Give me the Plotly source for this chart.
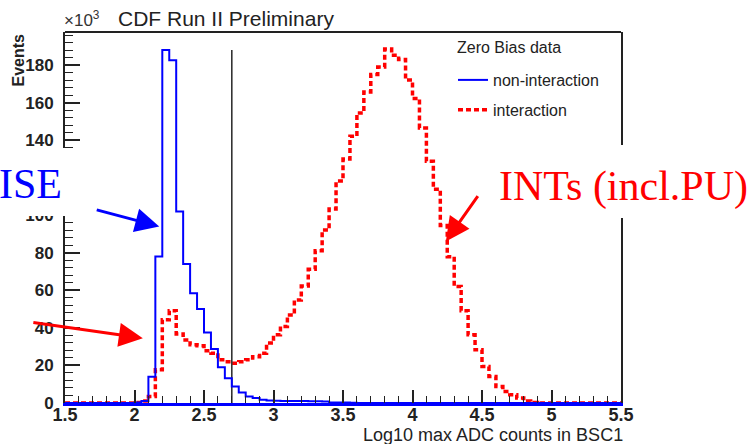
import numpy as np
import plotly.graph_objects as go

# ---------------- data (values in units of 10^3 events) ----------------
bin_start = 1.5
bin_width = 0.05

non_interaction = [
    0, 0, 0, 0, 0, 0, 0, 0, 0, 0,            # 1.50 - 2.00
    0.2, 1.0, 14.0, 78.0, 188.0, 182.6, 102.0, 74.0, 58.4, 50.0,   # 2.00 - 2.50
    37.5, 28.7, 19.0, 13.2, 8.8, 5.6, 3.5, 2.6, 1.7, 1.3,          # 2.50 - 3.00
    1.2, 1.1, 1.1, 1.0, 1.0, 0.9, 0.9, 0.8, 0.3, 0.2,             # 3.00 - 3.50
    0.2, 0.1, 0, 0, 0, 0, 0, 0, 0, 0,        # 3.50 - 4.00
    0, 0, 0, 0, 0, 0, 0, 0, 0, 0,            # 4.00 - 4.50
    0, 0, 0, 0, 0, 0, 0, 0, 0, 0,            # 4.50 - 5.00
    0, 0, 0, 0, 0, 0, 0, 0, 0, 0,            # 5.00 - 5.50
]

interaction = [
    0, 0, 0, 0, 0, 0, 0, 0, 0, 0,            # 1.50 - 2.00
    0.3, 1.0, 3.5, 17.7, 44.3, 49.2, 36.8, 33.6, 31.0, 30.5,       # 2.00 - 2.50
    27.8, 26.5, 23.0, 22.0, 21.2, 22.0, 23.0, 24.7, 26.5, 31.9,    # 2.50 - 3.00
    36.3, 40.7, 46.9, 54.9, 62.3, 71.2, 81.1, 92.1, 103.3, 118.2,  # 3.00 - 3.50
    129.9, 142.1, 154.5, 165.7, 175.0, 179.0, 188.5, 185.2, 183.0, 172.0,  # 3.50 - 4.00
    162.2, 146.5, 128.7, 113.9, 94.5, 77.9, 62.0, 49.2, 36.3, 28.3,  # 4.00 - 4.50
    19.4, 14.1, 8.8, 6.1, 4.4, 2.6, 1.0, 0.3, 0, 0,               # 4.50 - 5.00
    0, 0, 0, 0, 0, 0, 0, 0, 0, 0,            # 5.00 - 5.50
]

cut_value = 2.7
cut_height = 188.0

x_tick_vals = [1.5, 2, 2.5, 3, 3.5, 4, 4.5, 5, 5.5]
x_tick_text = ["1.5", "2", "2.5", "3", "3.5", "4", "4.5", "5", "5.5"]
y_tick_vals = [0, 20, 40, 60, 80, 100, 120, 140, 160, 180]
y_tick_text = ["0", "20", "40", "60", "80", "100", "120", "140", "160", "180"]

# ---------------- build ----------------
edges = bin_start + bin_width * np.arange(len(interaction) + 1)


def steps(vals):
    return list(edges), list(vals) + [vals[-1]]


TICKFONT = "Liberation Sans Narrow, Arial Narrow, Liberation Sans, Arial, sans-serif"
SANS = "Liberation Sans, Arial, Helvetica, sans-serif"
SERIF = "Liberation Serif, Times New Roman, serif"
FRAME = "#222222"

fig = go.Figure()

rx, ry = steps(interaction)
fig.add_trace(go.Scatter(
    x=rx, y=ry, mode="lines", line_shape="hv",
    line=dict(color="#ff0000", width=3.5, dash="5px,3px"),
    name="interaction", legendgroup="b", legendrank=2,
))

fig.add_trace(go.Scatter(
    x=[cut_value, cut_value], y=[0, cut_height], mode="lines",
    line=dict(color="#333333", width=1.6), showlegend=False,
    hoverinfo="skip",
))

bx, by = steps(non_interaction)
fig.add_trace(go.Scatter(
    x=bx, y=by, mode="lines", line_shape="hv",
    line=dict(color="#0000ff", width=2),
    name="non-interaction", legendgroup="a", legendrank=1,
))

fig.update_layout(
    width=751, height=444,
    margin=dict(l=65, r=130, t=32, b=41),
    paper_bgcolor="white", plot_bgcolor="white",
    font=dict(family=SANS, color=FRAME),
    title=dict(text="CDF Run II Preliminary", x=118 / 751, xanchor="left",
               y=1 - 19 / 444, yanchor="middle",
               font=dict(family=SANS, size=21, color="#222222")),
    xaxis=dict(
        range=[1.5, 5.5], tickvals=x_tick_vals, ticktext=x_tick_text,
        ticks="inside", ticklen=13, tickwidth=1.5, tickcolor=FRAME,
        minor=dict(dtick=0.1, ticks="inside", ticklen=7, tickwidth=1.2,
                   tickcolor=FRAME, showgrid=False),
        showline=True, linecolor="#0000ff", linewidth=2.5, mirror=False,
        showgrid=False, zeroline=False, ticklabelstandoff=-6,
        tickfont=dict(family=TICKFONT, size=18, weight="bold", color=FRAME),
    ),
    yaxis=dict(
        range=[0, 197.6], tickvals=y_tick_vals, ticktext=y_tick_text,
        ticks="inside", ticklen=15, tickwidth=1.5, tickcolor=FRAME,
        minor=dict(dtick=4, ticks="inside", ticklen=8, tickwidth=1.2,
                   tickcolor=FRAME, showgrid=False),
        showline=True, linecolor=FRAME, linewidth=2, mirror=True,
        showgrid=False, zeroline=False, ticklabelstandoff=6,
        tickfont=dict(family=TICKFONT, size=17, weight="bold", color=FRAME),
    ),
    legend=dict(
        x=(453 - 65) / 556, y=(403 - 63) / 371, xanchor="left", yanchor="top",
        bgcolor="rgba(0,0,0,0)", borderwidth=0,
        traceorder="grouped", tracegroupgap=6,
        font=dict(family=SANS, size=16, color=FRAME),
    ),
    showlegend=True,
)

# top frame line
fig.add_shape(type="line", xref="paper", yref="paper", layer="above",
              x0=0, x1=1, y0=1, y1=1, line=dict(color=FRAME, width=2))

# white boxes of the slide text overlays (covering parts of the frame)
fig.add_shape(type="rect", xref="paper", yref="paper", layer="above",
              x0=-65 / 556, x1=(88 - 65) / 556,
              y0=(403 - 216) / 371, y1=(403 - 148) / 371,
              fillcolor="white", line=dict(width=0))
fig.add_shape(type="rect", xref="paper", yref="paper", layer="above",
              x0=(492 - 65) / 556, x1=686 / 556,
              y0=(403 - 218) / 371, y1=(403 - 145) / 371,
              fillcolor="white", line=dict(width=0))

# legend header
fig.add_annotation(text="Zero Bias data", xref="paper", yref="paper",
                   x=(455 - 65) / 556, y=(403 - 48) / 371, xanchor="left", yanchor="middle",
                   showarrow=False, font=dict(family=SANS, size=16, color=FRAME))

# axis titles and exponent
fig.add_annotation(text="Log10 max ADC counts in BSC1", xref="paper", yref="paper",
                   x=(625 - 65) / 556, y=(403 - 435) / 371, xanchor="right", yanchor="middle",
                   showarrow=False, font=dict(family=SANS, size=18, color=FRAME))
fig.add_annotation(text="<b>Events</b>", xref="paper", yref="paper",
                   x=(18 - 65) / 556, y=(403 - 32) / 371, xanchor="center", yanchor="top",
                   textangle=-90, showarrow=False,
                   font=dict(family=SANS, size=16, color=FRAME))
fig.add_annotation(text="×10<sup>3</sup>", xref="paper", yref="paper",
                   x=(62 - 65) / 556, y=(403 - 19) / 371, xanchor="left", yanchor="middle",
                   showarrow=False, font=dict(family=SANS, size=17, color="#333333"))

# slide annotations
fig.add_annotation(text="ISE", xref="paper", yref="paper",
                   x=(-3 - 65) / 556, y=(403 - 184) / 371, xanchor="left", yanchor="middle",
                   showarrow=False, font=dict(family=SERIF, size=42, color="#0000ff"))
fig.add_annotation(text="INTs (incl.PU)", xref="paper", yref="paper",
                   x=(497 - 65) / 556, y=(403 - 186) / 371, xanchor="left", yanchor="middle",
                   showarrow=False, font=dict(family=SERIF, size=42, color="#ff0000"))

# arrows (tip in data coordinates, tail offset in pixels)
fig.add_annotation(x=2.178, y=94, text="", showarrow=True, ax=-64, ay=-17,
                   arrowhead=2, arrowsize=1.6, arrowwidth=3, arrowcolor="#0000ff", standoff=0)
fig.add_annotation(x=2.06, y=34.5, text="", showarrow=True, ax=-111, ay=-16,
                   arrowhead=2, arrowsize=1.6, arrowwidth=3, arrowcolor="#ff0000", standoff=0)
fig.add_annotation(x=4.24, y=86, text="", showarrow=True, ax=33, ay=-47,
                   arrowhead=2, arrowsize=1.6, arrowwidth=3, arrowcolor="#ff0000", standoff=0)

fig.write_html("out.html")
